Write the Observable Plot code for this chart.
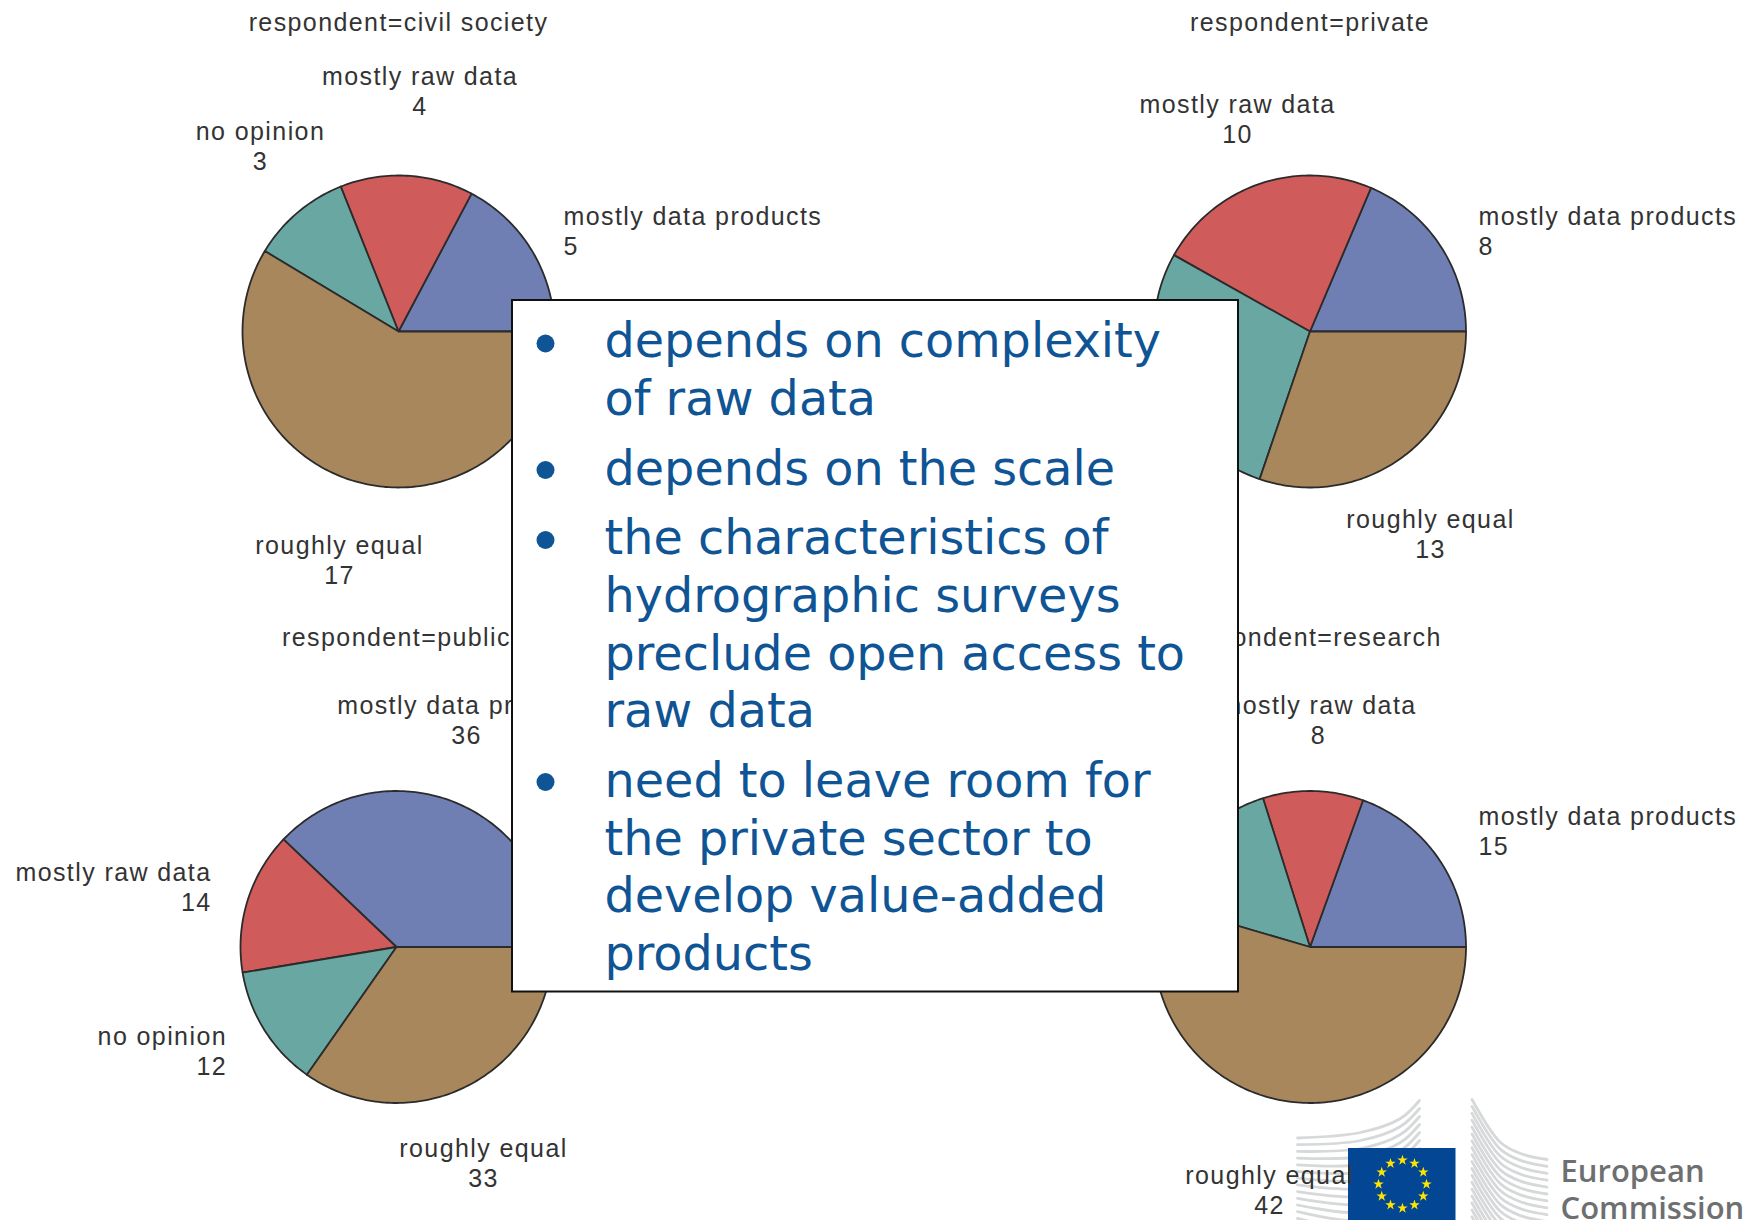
<!DOCTYPE html>
<html>
<head>
<meta charset="utf-8">
<style>
html,body{margin:0;padding:0;background:#fff;overflow:hidden}
svg{display:block}
.lbl text, text.lbl, .lbl{letter-spacing:1.4px}
</style>
<script src="https://cdn.jsdelivr.net/npm/d3@7"></script>
<script src="https://cdn.jsdelivr.net/npm/@observablehq/plot@0.6"></script>
</head>
<body>
<div id="chart"></div>
<script>
// ---- data ----
const categories = ["mostly data products", "mostly raw data", "no opinion", "roughly equal"];
const civilSociety = [5, 4, 3, 17];
const privateSector = [8, 10, 12, 13];
const publicSector = [36, 14, 12, 33];
const research = [15, 8, 12, 42];
const respondents = ["civil society", "private", "public", "research"];
const seriesValues = [civilSociety, privateSector, publicSector, research];
const sliceColors = ["#6f7fb3", "#d05b5b", "#69a8a2", "#a9875c"];

const bullets = [
  ["depends on complexity", "of raw data"],
  ["depends on the scale"],
  ["the characteristics of", "hydrographic surveys", "preclude open access to", "raw data"],
  ["need to leave room for", "the private sector to", "develop value-added", "products"]
];
const logoWords = ["European", "Commission"];

// ---- layout ----
const pieCenters = [[398, 331], [1309.5, 331], [396, 946.5], [1309.5, 946.5]];
const pieRadius = 156;
const titleY = [20.5, 20.5, 635.5, 635.5];
// per respondent, per category: [x, y of label block middle, anchor]; null = label lies wholly behind the box
const labelLayout = [
  [[563, 229.5, "start"], [419.5, 89.5, "middle"], [260, 144.5, "middle"], [339, 558.5, "middle"]],
  [[1478, 229.5, "start"], [1237, 117.5, "middle"], null, [1430, 532.5, "middle"]],
  [[466, 718.5, "middle"], [211, 885.5, "end"], [226.5, 1049.5, "end"], [483, 1161.5, "middle"]],
  [[1478, 829.5, "start"], [1318, 718.5, "middle"], null, [1269, 1188.5, "middle"]]
];
const box = {x1: 512, x2: 1238, y1: 300, y2: 991.5};
const bulletLineY = [[341.5, 399.5], [469], [538.5, 596, 654, 711], [781, 839, 896, 954]];
const bulletDotY = [343, 469.5, 539.5, 781.5];
const flag = {x1: 1348, x2: 1455.5, y1: 1148, y2: 1220, cx: 1402, cy: 1183.7, r: 24};
const leftArcX = [1297, 1360, 1400, 1419];
const leftArcY = [1137.5, 1132, 1118, 1100];
const rightArcX = [1471.5, 1500, 1520, 1546.5];
const rightArcY = [1099, 1142, 1153, 1159];
const logoWordY = [1171.5, 1208.5];

// ---- derived mark tables ----
const wedges = [];
seriesValues.forEach((vals, p) => {
  const total = d3.sum(vals);
  const [cx, cy] = pieCenters[p];
  let a = 0;
  vals.forEach((v, c) => {
    const b = a + (v / total) * 2 * Math.PI;
    const id = `${p}-${c}`;
    wedges.push({id, c, x: cx, y: cy});
    const n = Math.max(2, Math.ceil((b - a) / 0.02));
    for (let i = 0; i <= n; i++) {
      const t = a + (b - a) * i / n;
      wedges.push({id, c, x: cx + pieRadius * Math.cos(t), y: cy - pieRadius * Math.sin(t)});
    }
    wedges.push({id, c, x: cx, y: cy});
    a = b;
  });
});

const labels = [];
seriesValues.forEach((vals, p) => vals.forEach((v, c) => {
  if (!labelLayout[p][c]) return;
  const [x, y, anchor] = labelLayout[p][c];
  labels.push({x, y, anchor, text: `${categories[c]}\n${v}`});
}));

const titles = respondents.map((r, p) => ({x: pieCenters[p][0], y: titleY[p], text: `respondent=${r}`}));

const bulletRows = bullets.flatMap((lines, i) => lines.map((text, j) => ({text, y: bulletLineY[i][j]})));
const dots = bulletDotY.map(y => ({x: 545, y}));

const stars = d3.range(12).map(i => ({
  x: flag.cx + flag.r * Math.cos(i * Math.PI / 6),
  y: flag.cy + flag.r * Math.sin(i * Math.PI / 6)
}));

const leftLines = d3.range(13).flatMap(i => leftArcX.map((x, k) => ({i, x, y: leftArcY[k] + (k === 0 ? 6.7 : 8) * i})));
const rightLines = d3.range(18).flatMap(i => rightArcX.map((x, k) => ({i, x, y: rightArcY[k] + 6.9 * i})));

const labelFont = {fontFamily: "Liberation Sans, Arial, sans-serif", fontSize: 25, lineHeight: 30 / 25, fill: "#333", className: "lbl"};

const textBy = anchor => Plot.text(labels.filter(d => d.anchor === anchor), {
  x: "x", y: "y", text: "text", textAnchor: anchor, lineAnchor: "middle", ...labelFont
});

const chart = Plot.plot({
  width: 1749,
  height: 1220,
  margin: 0,
  style: {background: "#fff", maxWidth: "none"},
  x: {domain: [0, 1749], range: [0, 1749], axis: null},
  y: {domain: [0, 1220], range: [0, 1220], axis: null},
  marks: [
    // logo building lines
    Plot.line(leftLines, {x: "x", y: "y", z: "i", curve: "catmull-rom", stroke: "#d6d8d9", strokeWidth: 2.8}),
    Plot.line(rightLines, {x: "x", y: "y", z: "i", curve: "catmull-rom", stroke: "#d6d8d9", strokeWidth: 2.8}),
    Plot.rect([flag], {x1: "x1", x2: "x2", y1: "y1", y2: "y2", fill: "#034694"}),
    Plot.dot(stars, {x: "x", y: "y", symbol: "star", r: 3.3, fill: "#ffe600"}),
    Plot.text(logoWords.map((text, i) => ({text, y: logoWordY[i]})), {
      x: () => 1560, y: "y", text: "text", textAnchor: "start", lineAnchor: "middle",
      fontFamily: "Open Sans, sans-serif", fontWeight: 600, fontSize: 31, fill: "#6e6f71"
    }),
    // pies
    Plot.line(wedges, {
      x: "x", y: "y", z: "id", curve: "linear",
      fill: d => sliceColors[d.c], stroke: "#2b2b2b", strokeWidth: 1.8, strokeLinejoin: "round"
    }),
    // labels
    Plot.text(titles, {x: "x", y: "y", text: "text", textAnchor: "middle", lineAnchor: "middle", ...labelFont}),
    textBy("start"),
    textBy("middle"),
    textBy("end"),
    // overlay box
    Plot.rect([box], {x1: "x1", x2: "x2", y1: "y1", y2: "y2", fill: "#fff", stroke: "#111", strokeWidth: 2}),
    Plot.dot(dots, {x: "x", y: "y", r: 9, fill: "#0f5494"}),
    Plot.text(bulletRows, {
      x: () => 604, y: "y", text: "text", textAnchor: "start", lineAnchor: "middle",
      fontFamily: "DejaVu Sans, Verdana, sans-serif", fontSize: 47.7, fill: "#0f5494"
    })
  ]
});
document.getElementById("chart").appendChild(chart);
</script>
</body>
</html>
